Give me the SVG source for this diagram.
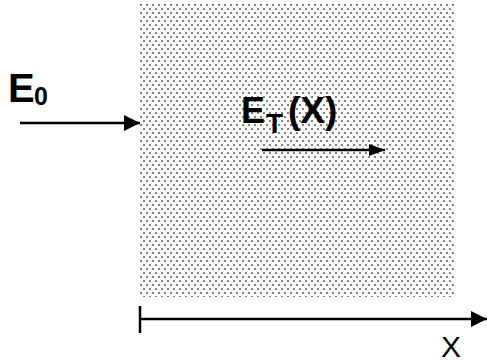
<svg xmlns="http://www.w3.org/2000/svg" width="487" height="363" viewBox="0 0 487 363">
  <style>
    .ln { stroke: #000; stroke-width: 2.5; fill: none; }
    .lbl { font-family: "Liberation Sans", Arial, sans-serif; fill: #000; }
    .b { font-weight: bold; }
  </style>
  <defs>
    <pattern id="dots" x="140" y="4" width="6" height="8" patternUnits="userSpaceOnUse">
      <rect x="0.2" y="0.2" width="1.6" height="1.6" fill="#3a3a3a"/>
      <rect x="3.2" y="4.2" width="1.6" height="1.6" fill="#3a3a3a"/>
    </pattern>
    <marker id="ah" viewBox="0 0 16 16" refX="16" refY="8" markerWidth="16" markerHeight="16" markerUnits="userSpaceOnUse" orient="auto">
      <path d="M0,0 L16,8 L0,16 Z" fill="#000"/>
    </marker>
    <marker id="ah2" viewBox="0 0 16 12" refX="16" refY="6" markerWidth="16" markerHeight="12" markerUnits="userSpaceOnUse" orient="auto">
      <path d="M0,0 L16,6 L0,12 Z" fill="#000"/>
    </marker>
  </defs>

  <g id="medium">
    <rect x="140" y="4" width="315" height="293" fill="url(#dots)"/>
  </g>

  <g id="label-E0">
    <text class="lbl b" x="8" y="102" font-size="40">E</text>
    <text class="lbl b" x="34" y="105" font-size="25">0</text>
  </g>

  <g id="label-ET">
    <text class="lbl b" x="241" y="123" font-size="36">E</text>
    <text class="lbl b" x="266" y="133" font-size="28">T</text>
    <text class="lbl b" x="288" y="123" font-size="37">(X)</text>
  </g>

  <g id="label-X">
    <text class="lbl" x="441" y="357" font-size="30">X</text>
  </g>

  <g id="connectors">
    <line class="ln" x1="20" y1="123" x2="140" y2="123" marker-end="url(#ah)"/>
    <line class="ln" x1="262" y1="150" x2="385" y2="150" marker-end="url(#ah2)"/>
    <line class="ln" x1="140" y1="306" x2="140" y2="333"/>
    <line class="ln" x1="140" y1="319" x2="487" y2="319" marker-end="url(#ah)"/>
  </g>
</svg>
